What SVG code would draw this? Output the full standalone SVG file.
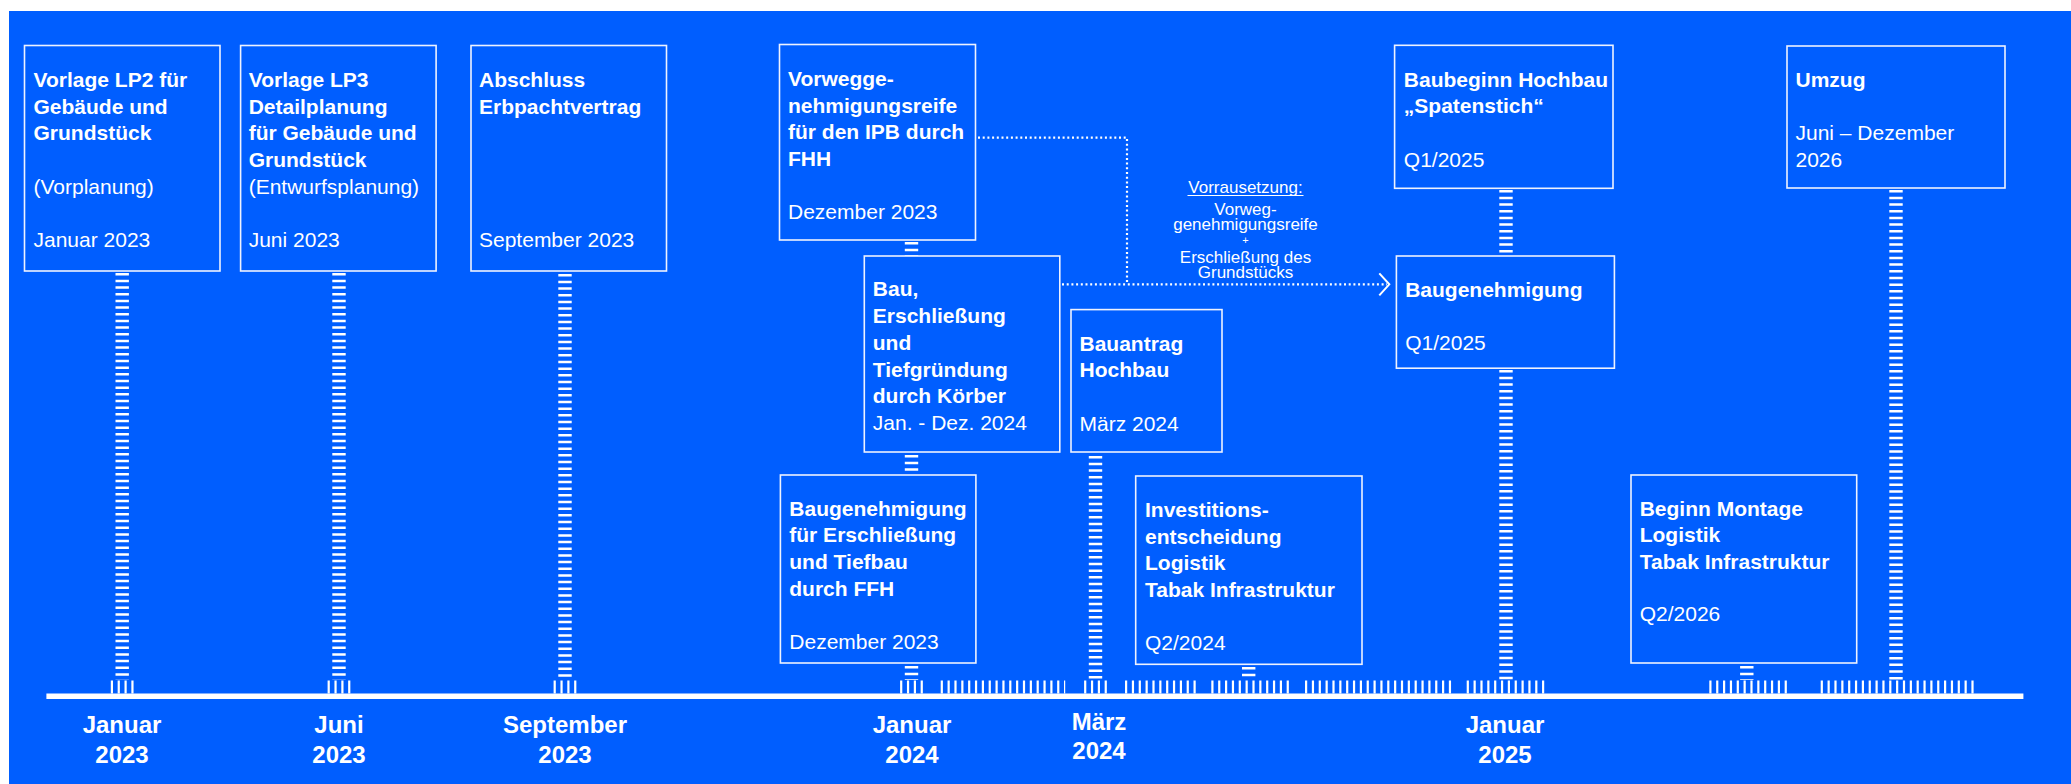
<svg xmlns="http://www.w3.org/2000/svg" width="2071" height="784" viewBox="0 0 2071 784">
<style>
.bg{fill:#005EFF}
.box{fill:none;stroke:#EEF2FF;stroke-width:1.6}
text{font-family:"Liberation Sans",Arial,sans-serif;fill:#fff}
.b{font-weight:bold;font-size:21px}
.r{font-size:21px}
.ax{font-weight:bold;font-size:24px;text-anchor:middle}
.lb{font-size:17px;text-anchor:middle}
.vd{stroke:#fff;stroke-width:13.4;stroke-dasharray:2.5 4.17;fill:none}
.tk{stroke:#fff;stroke-width:12.8;stroke-dasharray:2.2 4.65;fill:none}
.dot{stroke:#fff;stroke-width:2.2;stroke-dasharray:2 2.7;fill:none}
.arr{stroke:#fff;stroke-width:2;fill:none}
</style>
<rect class="bg" x="9" y="11" width="2062" height="773"/>

<g id="connectors">
  <!-- axis -->
  <rect x="46.4" y="693.5" width="1977" height="5.5" fill="#fff"/>
  <!-- ticks -->
  <line class="tk" x1="110.8" y1="687" x2="133.6" y2="687"/>
  <line class="tk" x1="327.6" y1="687" x2="350.4" y2="687"/>
  <line class="tk" x1="553.6" y1="687" x2="576.4" y2="687"/>
  <line class="tk" x1="900.1" y1="687" x2="922.9" y2="687"/>
  <line class="tk" x1="940.7" y1="687" x2="1065.2" y2="687"/>
  <line class="tk" x1="1084.1" y1="687" x2="1106.9" y2="687"/>
  <line class="tk" x1="1125" y1="687" x2="1195.7" y2="687"/>
  <line class="tk" x1="1211.3" y1="687" x2="1288.9" y2="687"/>
  <line class="tk" x1="1305" y1="687" x2="1451.1" y2="687"/>
  <line class="tk" x1="1466.7" y1="687" x2="1544.2" y2="687"/>
  <line class="tk" x1="1709.3" y1="687" x2="1786.9" y2="687"/>
  <line class="tk" x1="1820.7" y1="687" x2="1973.6" y2="687"/>
  <!-- vertical dashed stems -->
  <line class="vd" x1="122.2" y1="273" x2="122.2" y2="680"/>
  <line class="vd" x1="339" y1="273" x2="339" y2="680"/>
  <line class="vd" x1="565" y1="274" x2="565" y2="680"/>
  <line class="vd" x1="911.5" y1="242" x2="911.5" y2="256"/>
  <line class="vd" x1="911.5" y1="455" x2="911.5" y2="475"/>
  <line class="vd" x1="911.5" y1="666" x2="911.5" y2="680"/>
  <line class="vd" x1="1095.5" y1="456" x2="1095.5" y2="680"/>
  <line class="vd" x1="1248.7" y1="667" x2="1248.7" y2="680"/>
  <line class="vd" x1="1506" y1="190" x2="1506" y2="256"/>
  <line class="vd" x1="1506" y1="370" x2="1506" y2="680"/>
  <line class="vd" x1="1746.8" y1="666" x2="1746.8" y2="680"/>
  <line class="vd" x1="1896" y1="190" x2="1896" y2="680"/>
  <!-- dotted dependency connectors -->
  <polyline class="dot" points="978,137.7 1127,137.7 1127,284.3"/>
  <line class="dot" x1="1062" y1="284.3" x2="1387" y2="284.3"/>
  <polyline class="arr" points="1379.3,273.3 1389.3,284.3 1379.3,295.3"/>
  <!-- connector label -->
  <g id="condition-label">
    <text class="lb" x="1245.5" y="192.7">Vorrausetzung:</text>
    <line x1="1187.5" y1="195.5" x2="1303.5" y2="195.5" stroke="#fff" stroke-width="1"/>
    <text class="lb" x="1245.5" y="215">Vorweg-</text>
    <text class="lb" x="1245.5" y="230">genehmigungsreife</text>
    <text class="lb" x="1245.5" y="244" style="font-size:11px">+</text>
    <text class="lb" x="1245.5" y="262.7">Erschließung des</text>
    <text class="lb" x="1245.5" y="277.7">Grundstücks</text>
  </g>
</g>

<g id="n-lp2">
  <rect class="box" x="24.5" y="45.5" width="195.5" height="225.5"/>
  <text class="b" x="33.5" y="87.3">Vorlage LP2 für</text>
  <text class="b" x="33.5" y="113.8">Gebäude und</text>
  <text class="b" x="33.5" y="140.3">Grundstück</text>
  <text class="r" x="33.5" y="194">(Vorplanung)</text>
  <text class="r" x="33.5" y="247.3">Januar 2023</text>
</g>
<g id="n-lp3">
  <rect class="box" x="240.6" y="45.5" width="195.5" height="225.5"/>
  <text class="b" x="248.7" y="87.3">Vorlage LP3</text>
  <text class="b" x="248.7" y="113.8">Detailplanung</text>
  <text class="b" x="248.7" y="140.3">für Gebäude und</text>
  <text class="b" x="248.7" y="166.8">Grundstück</text>
  <text class="r" x="248.7" y="194">(Entwurfsplanung)</text>
  <text class="r" x="248.7" y="247.3">Juni 2023</text>
</g>
<g id="n-erbpacht">
  <rect class="box" x="471" y="45.5" width="195.5" height="225.5"/>
  <text class="b" x="479" y="87.3">Abschluss</text>
  <text class="b" x="479" y="113.8">Erbpachtvertrag</text>
  <text class="r" x="479" y="247.3">September 2023</text>
</g>
<g id="n-vorweg">
  <rect class="box" x="779.5" y="44.5" width="196" height="195.5"/>
  <text class="b" x="788" y="86">Vorwegge-</text>
  <text class="b" x="788" y="112.5">nehmigungsreife</text>
  <text class="b" x="788" y="139">für den IPB durch</text>
  <text class="b" x="788" y="165.5">FHH</text>
  <text class="r" x="788" y="219">Dezember 2023</text>
</g>
<g id="n-bau">
  <rect class="box" x="864.3" y="256" width="195.5" height="196"/>
  <text class="b" x="872.8" y="296">Bau,</text>
  <text class="b" x="872.8" y="323">Erschließung</text>
  <text class="b" x="872.8" y="349.5">und</text>
  <text class="b" x="872.8" y="376.5">Tiefgründung</text>
  <text class="b" x="872.8" y="403">durch Körber</text>
  <text class="r" x="872.8" y="430">Jan. - Dez. 2024</text>
</g>
<g id="n-bg-erschl">
  <rect class="box" x="780.4" y="475" width="195.5" height="188"/>
  <text class="b" x="789.3" y="515.7">Baugenehmigung</text>
  <text class="b" x="789.3" y="542.2">für Erschließung</text>
  <text class="b" x="789.3" y="569">und Tiefbau</text>
  <text class="b" x="789.3" y="595.7">durch FFH</text>
  <text class="r" x="789.3" y="648.5">Dezember 2023</text>
</g>
<g id="n-bauantrag">
  <rect class="box" x="1071" y="309.6" width="151" height="142.4"/>
  <text class="b" x="1079.5" y="351">Bauantrag</text>
  <text class="b" x="1079.5" y="377">Hochbau</text>
  <text class="r" x="1079.5" y="430.5">März 2024</text>
</g>
<g id="n-invest">
  <rect class="box" x="1135.7" y="476" width="226.3" height="188.3"/>
  <text class="b" x="1145" y="516.7">Investitions-</text>
  <text class="b" x="1145" y="543.5">entscheidung</text>
  <text class="b" x="1145" y="570">Logistik</text>
  <text class="b" x="1145" y="596.7">Tabak Infrastruktur</text>
  <text class="r" x="1145" y="650">Q2/2024</text>
</g>
<g id="n-baubeginn">
  <rect class="box" x="1394.6" y="45.3" width="218.4" height="143"/>
  <text class="b" x="1403.8" y="87.3">Baubeginn Hochbau</text>
  <text class="b" x="1403.8" y="113.3">„Spatenstich“</text>
  <text class="r" x="1403.8" y="166.7">Q1/2025</text>
</g>
<g id="n-umzug">
  <rect class="box" x="1787" y="46" width="218" height="142"/>
  <text class="b" x="1795.5" y="87.3">Umzug</text>
  <text class="r" x="1795.5" y="140">Juni – Dezember</text>
  <text class="r" x="1795.5" y="166.7">2026</text>
</g>
<g id="n-baugenehmigung">
  <rect class="box" x="1396.4" y="256" width="218" height="112.2"/>
  <text class="b" x="1405.2" y="297">Baugenehmigung</text>
  <text class="r" x="1405.2" y="349.8">Q1/2025</text>
</g>
<g id="n-montage">
  <rect class="box" x="1631" y="475" width="225.7" height="188"/>
  <text class="b" x="1639.7" y="515.7">Beginn Montage</text>
  <text class="b" x="1639.7" y="542">Logistik</text>
  <text class="b" x="1639.7" y="568.5">Tabak Infrastruktur</text>
  <text class="r" x="1639.7" y="621">Q2/2026</text>
</g>

<g id="axis-labels">
  <text class="ax" x="122" y="733">Januar</text>
  <text class="ax" x="122" y="762.6">2023</text>
  <text class="ax" x="339" y="733">Juni</text>
  <text class="ax" x="339" y="762.6">2023</text>
  <text class="ax" x="565" y="733">September</text>
  <text class="ax" x="565" y="762.6">2023</text>
  <text class="ax" x="912" y="733">Januar</text>
  <text class="ax" x="912" y="762.6">2024</text>
  <text class="ax" x="1099" y="730">März</text>
  <text class="ax" x="1099" y="759">2024</text>
  <text class="ax" x="1505" y="733">Januar</text>
  <text class="ax" x="1505" y="762.6">2025</text>
</g>
</svg>
